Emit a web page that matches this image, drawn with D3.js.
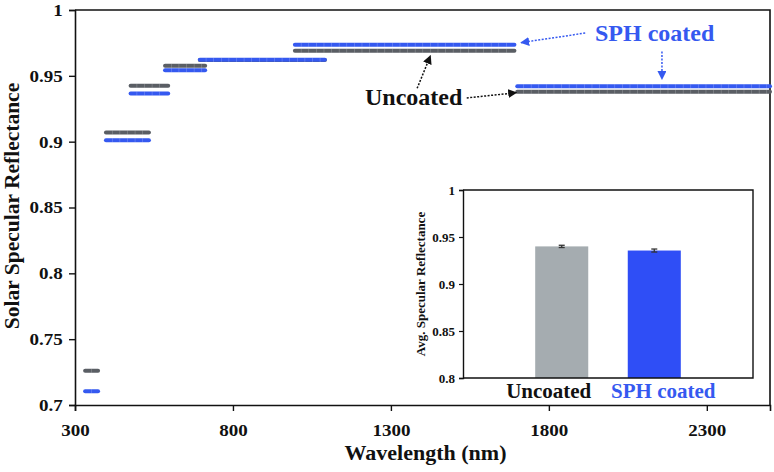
<!DOCTYPE html>
<html>
<head>
<meta charset="utf-8">
<script src="https://cdn.jsdelivr.net/npm/d3@7"></script>
<style>
  body { margin: 0; background: #fff; }
  svg { display: block; }
  text { font-family: "Liberation Serif", "Times New Roman", serif; font-weight: bold; }
</style>
</head>
<body>
<div id="chart"></div>
<script>
// Spectral bands (nm) and average specular reflectance per band
const bandStart = [332, 398, 476, 585, 695, 996, 1700];
const bandEnd = [373, 534, 595, 712, 1091, 1691, 2500];
const uncoated = [0.726, 0.907, 0.9425, 0.9576, 0.962, 0.969, 0.938];
const sphCoated = [0.7105, 0.901, 0.9365, 0.9543, 0.9622, 0.9736, 0.942];

const xTicks = [300, 800, 1300, 1800, 2300];
const yTicks = [0.7, 0.75, 0.8, 0.85, 0.9, 0.95, 1];

// Inset: average over the whole spectrum
const insetCategories = ["Uncoated", "SPH coated"];
const insetValues = [0.940, 0.9356];
const insetErrors = [0.0012, 0.0016];
const insetTicks = [0.8, 0.85, 0.9, 0.95, 1];

const colors = { uncoated: "#5a5e64", sph: "#3559f0" };
const barColors = ["#a5acb0", "#2f4ef6"];

const width = 774, height = 472;
const svg = d3.select("#chart").append("svg")
  .attr("width", width).attr("height", height);

const x = d3.scaleLinear().domain([300, 2500]).range([75, 770]);
const y = d3.scaleLinear().domain([0.7, 1]).range([405, 10]);

// Arrow heads
const defs = svg.append("defs");
[["arrBlue", colors.sph], ["arrBlack", "#111"]].forEach(([id, c]) => {
  defs.append("marker")
    .attr("id", id).attr("viewBox", "0 0 10 10")
    .attr("refX", 9).attr("refY", 5)
    .attr("markerWidth", 9).attr("markerHeight", 9)
    .attr("markerUnits", "userSpaceOnUse")
    .attr("orient", "auto")
    .append("path").attr("d", "M0,0L10,5L0,10z").attr("fill", c);
});

// Axes
const xAxis = svg.append("g")
  .attr("transform", `translate(0,${y(0.7)})`)
  .call(d3.axisBottom(x).tickValues(xTicks).tickSize(6).tickPadding(13).tickFormat(d3.format("d")));
const yAxis = svg.append("g")
  .attr("transform", `translate(${x(300)},0)`)
  .call(d3.axisLeft(y).tickValues(yTicks).tickSize(6).tickPadding(5).tickFormat(d => String(d)));

[xAxis, yAxis].forEach(a => {
  a.select(".domain").attr("stroke", "#111").attr("stroke-width", 1.6);
  a.selectAll(".tick line").attr("stroke", "#111").attr("stroke-width", 1.4);
  // reference labels are a little wide for their height
  a.selectAll(".tick text").attr("fill", "#111").style("font-size", "17px")
    .style("font-family", '"Liberation Serif", serif').style("font-weight", "bold")
    .attr("transform", "scale(1.12,1)");
});

// frame top and right
svg.append("path")
  .attr("d", `M${x(300)},${y(1)}H${x(2500)}V${y(0.7)}`)
  .attr("fill", "none").attr("stroke", "#111").attr("stroke-width", 1.6);

// Axis titles
svg.append("text")
  .attr("x", (x(300) + x(2500)) / 2 + 3).attr("y", 460)
  .attr("text-anchor", "middle").style("font-size", "22px").attr("fill", "#111")
  .text("Wavelength (nm)");
svg.append("text")
  .attr("transform", `translate(19,206) rotate(-90)`)
  .attr("text-anchor", "middle").style("font-size", "21.5px").attr("fill", "#111")
  .text("Solar Specular Reflectance");

// Band segments
function drawBands(values, color) {
  const g = svg.append("g");
  g.selectAll("line.band")
    .data(values)
    .join("line")
    .attr("class", "band")
    .attr("x1", (d, i) => x(bandStart[i]))
    .attr("x2", (d, i) => x(bandEnd[i]))
    .attr("y1", d => y(d))
    .attr("y2", d => y(d))
    .attr("stroke", color)
    .attr("stroke-width", 4)
    .attr("stroke-linecap", "round");
  // faint seams between the dash markers
  g.selectAll("line.seam")
    .data(values)
    .join("line")
    .attr("class", "seam")
    .attr("x1", (d, i) => x(bandStart[i]) + 6)
    .attr("x2", (d, i) => x(bandEnd[i]) - 2)
    .attr("y1", d => y(d))
    .attr("y2", d => y(d))
    .attr("stroke", "#fff")
    .attr("stroke-opacity", 0.3)
    .attr("stroke-width", 4)
    .attr("stroke-dasharray", "0.6,7");
}
drawBands(uncoated, colors.uncoated);
drawBands(sphCoated, colors.sph);

// Annotations
const ann = svg.append("g");
ann.append("text").attr("x", x(1946)).attr("y", y(0.9765))
  .style("font-size", "24px").attr("fill", colors.sph).text("SPH coated");
ann.append("text").attr("x", x(1218)).attr("y", y(0.928))
  .style("font-size", "24px").attr("fill", "#111").text("Uncoated");

const arrows = [
  { from: [1915, 0.9825], to: [1712, 0.9752], c: colors.sph, m: "arrBlue" },
  { from: [2158, 0.9685], to: [2158, 0.9475], c: colors.sph, m: "arrBlue" },
  { from: [1383, 0.9405], to: [1425, 0.9652], c: "#111", m: "arrBlack" },
  { from: [1540, 0.9332], to: [1697, 0.9372], c: "#111", m: "arrBlack" }
];
ann.selectAll("line.arrow")
  .data(arrows)
  .join("line")
  .attr("class", "arrow")
  .attr("x1", d => x(d.from[0])).attr("y1", d => y(d.from[1]))
  .attr("x2", d => x(d.to[0])).attr("y2", d => y(d.to[1]))
  .attr("stroke", d => d.c).attr("stroke-width", 1.5)
  .attr("stroke-dasharray", "2,1.5")
  .attr("marker-end", d => `url(#${d.m})`);

// Inset bar chart
const ix = d3.scaleBand().domain(insetCategories).range([463, 753])
  .paddingInner(0.427).paddingOuter(0.78);
const iy = d3.scaleLinear().domain([0.8, 1]).range([378, 190]);

const inset = svg.append("g");
inset.append("rect")
  .attr("x", 463).attr("y", iy(1)).attr("width", 753 - 463).attr("height", iy(0.8) - iy(1))
  .attr("fill", "#fff");

inset.selectAll("rect.bar")
  .data(insetValues)
  .join("rect")
  .attr("class", "bar")
  .attr("x", (d, i) => ix(insetCategories[i]))
  .attr("width", ix.bandwidth())
  .attr("y", d => iy(d))
  .attr("height", d => iy(0.8) - iy(d))
  .attr("fill", (d, i) => barColors[i]);

// error bars
const eb = inset.selectAll("g.err")
  .data(insetValues)
  .join("g").attr("class", "err")
  .attr("stroke", "#333").attr("stroke-width", 1.3);
eb.append("line")
  .attr("x1", (d, i) => ix(insetCategories[i]) + ix.bandwidth() / 2)
  .attr("x2", (d, i) => ix(insetCategories[i]) + ix.bandwidth() / 2)
  .attr("y1", (d, i) => iy(d + insetErrors[i]))
  .attr("y2", (d, i) => iy(d - insetErrors[i]));
[1, -1].forEach(s => {
  eb.append("line")
    .attr("x1", (d, i) => ix(insetCategories[i]) + ix.bandwidth() / 2 - 3)
    .attr("x2", (d, i) => ix(insetCategories[i]) + ix.bandwidth() / 2 + 3)
    .attr("y1", (d, i) => iy(d + s * insetErrors[i]))
    .attr("y2", (d, i) => iy(d + s * insetErrors[i]));
});

const iyAxis = inset.append("g")
  .attr("transform", "translate(463,0)")
  .call(d3.axisLeft(iy).tickValues(insetTicks).tickSize(4).tickPadding(4).tickFormat(d => String(d)));
iyAxis.select(".domain").attr("stroke", "#111").attr("stroke-width", 1.4);
iyAxis.selectAll(".tick line").attr("stroke", "#111").attr("stroke-width", 1.2);
iyAxis.selectAll(".tick text").attr("fill", "#111").style("font-size", "13px")
  .style("font-family", '"Liberation Serif", serif').style("font-weight", "bold");

inset.append("path")
  .attr("d", `M463,${iy(0.8)}H753V${iy(1)}H463`)
  .attr("fill", "none").attr("stroke", "#111").attr("stroke-width", 1.4);

inset.append("text")
  .attr("transform", `translate(425,${(iy(0.8) + iy(1)) / 2}) rotate(-90)`)
  .attr("text-anchor", "middle").style("font-size", "13px").attr("fill", "#111")
  .text("Avg. Specular Reflectance");

const labelShift = [-13, 9];
inset.selectAll("text.cat")
  .data(insetCategories)
  .join("text")
  .attr("class", "cat")
  .attr("x", (d, i) => ix(d) + ix.bandwidth() / 2 + labelShift[i])
  .attr("y", 398)
  .attr("text-anchor", "middle")
  .style("font-size", "21px")
  .attr("fill", (d, i) => i === 0 ? "#111" : colors.sph)
  .text(d => d);
</script>
</body>
</html>
